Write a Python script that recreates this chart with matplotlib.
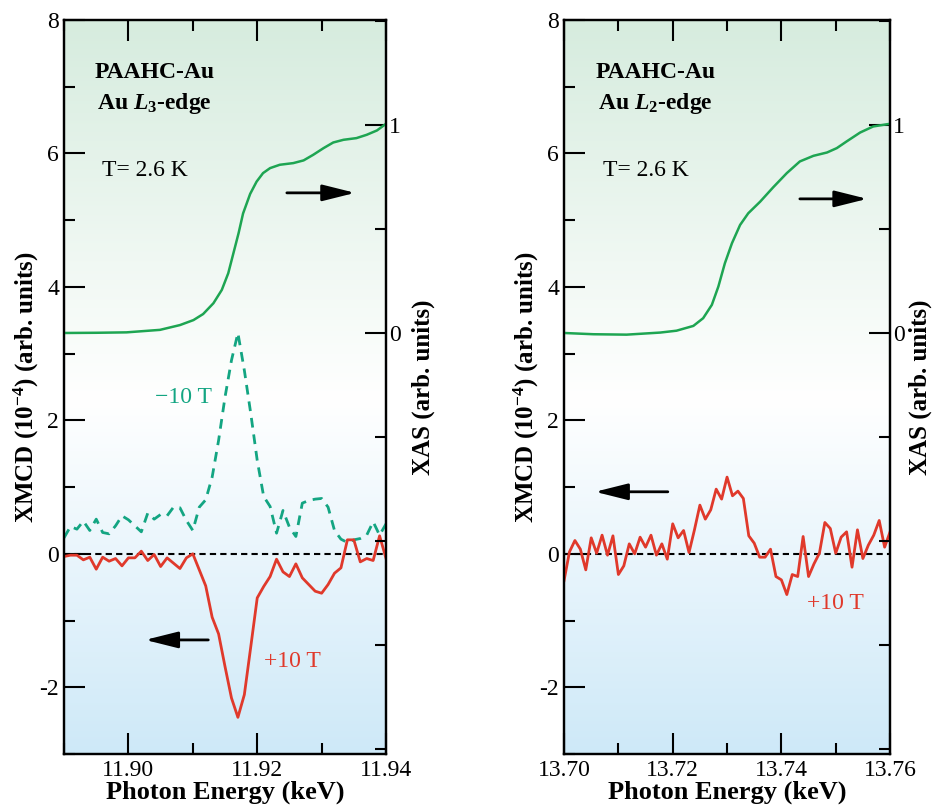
import numpy as np
import matplotlib
matplotlib.use("Agg")
import matplotlib.pyplot as plt
from matplotlib.ticker import MultipleLocator, FixedLocator, FixedFormatter

plt.rcParams['font.family'] = ['Liberation Serif', 'DejaVu Serif']
plt.rcParams['mathtext.fontset'] = 'custom'
plt.rcParams['mathtext.rm'] = 'Liberation Serif'
plt.rcParams['mathtext.it'] = 'Liberation Serif:italic'
plt.rcParams['mathtext.bf'] = 'Liberation Serif:bold'
plt.rcParams['mathtext.bfit'] = 'Liberation Serif:italic:bold'
plt.rcParams['axes.unicode_minus'] = False

# ---- L3 edge data ----
e_l3 = np.round(np.arange(11.890, 11.9405, 0.001), 3)
xmcd_l3_p10 = [-0.04, -0.02, -0.02, -0.09, -0.05, -0.23, -0.05, -0.11, -0.07, -0.18,
               -0.06, -0.06, 0.04, -0.10, -0.01, -0.19, -0.06, -0.14, -0.22, -0.06,
               0.00, -0.24, -0.48, -0.95, -1.20, -1.69, -2.16, -2.45, -2.11, -1.39,
               -0.66, -0.49, -0.34, -0.08, -0.27, -0.34, -0.15, -0.36, -0.46, -0.56,
               -0.59, -0.46, -0.29, -0.21, 0.21, 0.21, -0.12, -0.07, -0.10, 0.27,
               -0.07]
xmcd_l3_m10 = [0.24, 0.41, 0.37, 0.49, 0.35, 0.52, 0.32, 0.30, 0.42, 0.57,
               0.51, 0.42, 0.33, 0.61, 0.52, 0.59, 0.57, 0.70, 0.69, 0.50,
               0.35, 0.70, 0.81, 1.15, 1.70, 2.35, 2.90, 3.31, 2.75, 2.10,
               1.40, 0.86, 0.71, 0.31, 0.65, 0.40, 0.26, 0.76, 0.80, 0.82,
               0.83, 0.70, 0.35, 0.22, 0.17, 0.21, 0.23, 0.28, 0.48, 0.28,
               0.45]
xas_l3_e = [11.890, 11.895, 11.8997, 11.9049, 11.9080, 11.9101, 11.9116, 11.9132,
            11.9145, 11.9155, 11.9163, 11.9171, 11.9178, 11.9189, 11.9199, 11.9209,
            11.9220, 11.9235, 11.9256, 11.9272, 11.9287, 11.9303, 11.9318, 11.9334,
            11.9354, 11.9370, 11.9386, 11.940]
xas_l3 = [0.0, 0.001, 0.003, 0.015, 0.038, 0.062, 0.091, 0.143,
          0.207, 0.287, 0.383, 0.479, 0.574, 0.668, 0.727, 0.768,
          0.792, 0.808, 0.816, 0.829, 0.856, 0.888, 0.915, 0.928,
          0.936, 0.952, 0.973, 1.005]

# ---- L2 edge data ----
e_l2 = np.round(np.arange(13.700, 13.7605, 0.001), 3)
xmcd_l2_p10 = [-0.40, 0.03, 0.20, 0.07, -0.24, 0.24, 0.01, 0.28, -0.02, 0.27,
               -0.31, -0.18, 0.15, 0.00, 0.25, 0.10, 0.28, -0.02, 0.15, -0.08,
               0.45, 0.24, 0.35, 0.02, 0.36, 0.73, 0.52, 0.66, 0.97, 0.82,
               1.15, 0.87, 0.94, 0.83, 0.27, 0.16, -0.05, -0.05, 0.07, -0.34,
               -0.39, -0.61, -0.31, -0.34, 0.26, -0.34, -0.15, 0.01, 0.47, 0.38,
               0.01, 0.25, 0.33, -0.20, 0.36, -0.07, 0.13, 0.28, 0.50, 0.10,
               0.33]
xas_l2_e = [13.700, 13.7054, 13.7115, 13.7177, 13.7207, 13.7238, 13.7256, 13.7272,
            13.7284, 13.7296, 13.7309, 13.7324, 13.7339, 13.7361, 13.7385, 13.7410,
            13.7434, 13.7459, 13.7484, 13.7502, 13.7520, 13.7545, 13.7569, 13.760]
xas_l2 = [0.0, -0.006, -0.008, 0.002, 0.011, 0.034, 0.071, 0.135,
          0.223, 0.335, 0.431, 0.519, 0.575, 0.631, 0.700, 0.768,
          0.824, 0.851, 0.867, 0.888, 0.920, 0.963, 0.992, 1.005]

RED = '#e0392b'
GREEN = '#1ea552'
TEAL = '#13a582'

# XAS 0 -> 3.31, XAS 1 -> 6.43 on the XMCD axis
XAS0, XAS1 = 3.31, 6.43
YMIN, YMAX = -3, 8


def make_bg():
    top = np.array([214, 236, 222]) / 255
    white = np.array([1.0, 1.0, 1.0])
    bot = np.array([206, 233, 248]) / 255
    n = 400
    v = np.linspace(YMAX, YMIN, n)
    img = np.zeros((n, 1, 3))
    for i, val in enumerate(v):
        if val >= 2.3:
            t = (val - 2.3) / (YMAX - 2.3)
            img[i, 0] = white + (top - white) * t
        else:
            t = (2.3 - val) / (2.3 - YMIN)
            img[i, 0] = white + (bot - white) * t
    return img


def panel(ax, xlim, xmaj, xmin_, edge_label, xas_pad):
    ax.imshow(make_bg(), extent=[xlim[0], xlim[1], YMIN, YMAX], aspect='auto',
              zorder=0, interpolation='bilinear')
    ax.set_xlim(*xlim)
    ax.set_ylim(YMIN, YMAX)
    ax.axhline(0, color='black', ls=(0, (3, 2)), lw=1.5, zorder=2)
    ax.xaxis.set_major_locator(MultipleLocator(xmaj))
    ax.xaxis.set_minor_locator(MultipleLocator(xmin_))
    ax.yaxis.set_major_locator(FixedLocator([-2, 0, 2, 4, 6, 8]))
    ax.yaxis.set_major_formatter(FixedFormatter(['-2', '0', '2', '4', '6', '8']))
    ax.yaxis.set_minor_locator(MultipleLocator(1))
    ax.tick_params(which='both', direction='in', top=True, right=False,
                   width=1.5, labelsize=17)
    ax.tick_params(which='major', length=15)
    ax.tick_params(which='minor', length=8)
    ax.tick_params(axis='x', pad=4)
    for s in ax.spines.values():
        s.set_linewidth(1.6)
    ax.set_xlabel('Photon Energy (keV)', fontsize=19, fontweight='bold', labelpad=0)
    ax.set_ylabel(r'XMCD (10$^{\mathbf{-4}}$) (arb. units)', fontsize=18,
                  fontweight='bold', labelpad=-1)
    ax.text(0.28, 0.928, 'PAAHC-Au', transform=ax.transAxes, ha='center',
            va='center', fontsize=17, fontweight='bold')
    ax.text(0.28, 0.886, edge_label, transform=ax.transAxes, ha='center',
            va='center', fontsize=17, fontweight='bold')
    ax.text(0.25, 0.795, 'T= 2.6 K', transform=ax.transAxes, ha='center',
            va='center', fontsize=17)

    ax2 = ax.twinx()
    lo = (YMIN - XAS0) / (XAS1 - XAS0)
    hi = (YMAX - XAS0) / (XAS1 - XAS0)
    ax2.set_ylim(lo, hi)
    ax2.yaxis.set_major_locator(FixedLocator([0, 1]))
    ax2.yaxis.set_minor_locator(MultipleLocator(0.5))
    ax2.tick_params(which='both', direction='in', width=1.5, labelsize=17, pad=2)
    ax2.tick_params(which='major', length=15)
    ax2.tick_params(which='minor', length=8)
    ax2.set_ylabel('XAS (arb. units)', fontsize=18, fontweight='bold', labelpad=xas_pad)
    for s in ax2.spines.values():
        s.set_linewidth(1.6)
    return ax2


def arrow(ax, x0, x1, y):
    ax.annotate('', xy=(x1, y), xytext=(x0, y),
                arrowprops=dict(arrowstyle='-|>,head_length=2.0,head_width=0.5',
                                color='black', lw=2, shrinkA=0, shrinkB=0),
                zorder=5)


fig = plt.figure(figsize=(9.32, 8.08), dpi=100)
ax_a = fig.add_axes([0.0687, 0.0668, 0.3455, 0.9084])
ax_b = fig.add_axes([0.6052, 0.0668, 0.3498, 0.9084])

# left panel: L3 edge
ax_a2 = panel(ax_a, (11.89, 11.94), 0.02, 0.01,
              r'Au $\mathbfit{L}_{\mathbf{3}}$-edge', 8)
ax_a.plot(e_l3, xmcd_l3_m10, color=TEAL, lw=2, ls=(0, (3.5, 2.5)), zorder=3)
ax_a.plot(e_l3, xmcd_l3_p10, color=RED, lw=2, zorder=4)
ax_a2.plot(xas_l3_e, xas_l3, color=GREEN, lw=1.8, solid_joinstyle='round')
ax_a.text(11.9085, 2.35, '\u221210 T', color=TEAL, fontsize=17, ha='center', va='center')
ax_a.text(11.9254, -1.62, '+10 T', color=RED, fontsize=17, ha='center', va='center')
arrow(ax_a, 11.9246, 11.9352, 5.41)
arrow(ax_a, 11.9124, 11.9026, -1.29)

# right panel: L2 edge
ax_b2 = panel(ax_b, (13.70, 13.76), 0.02, 0.01,
              r'Au $\mathbfit{L}_{\mathbf{2}}$-edge', 3)
ax_b.plot(e_l2, xmcd_l2_p10, color=RED, lw=2, zorder=4)
ax_b2.plot(xas_l2_e, xas_l2, color=GREEN, lw=1.8, solid_joinstyle='round')
ax_b.text(13.7499, -0.75, '+10 T', color=RED, fontsize=17, ha='center', va='center')
arrow(ax_b, 13.7434, 13.7558, 5.32)
arrow(ax_b, 13.7191, 13.7057, 0.93)

fig.savefig('out.png', dpi=100)
